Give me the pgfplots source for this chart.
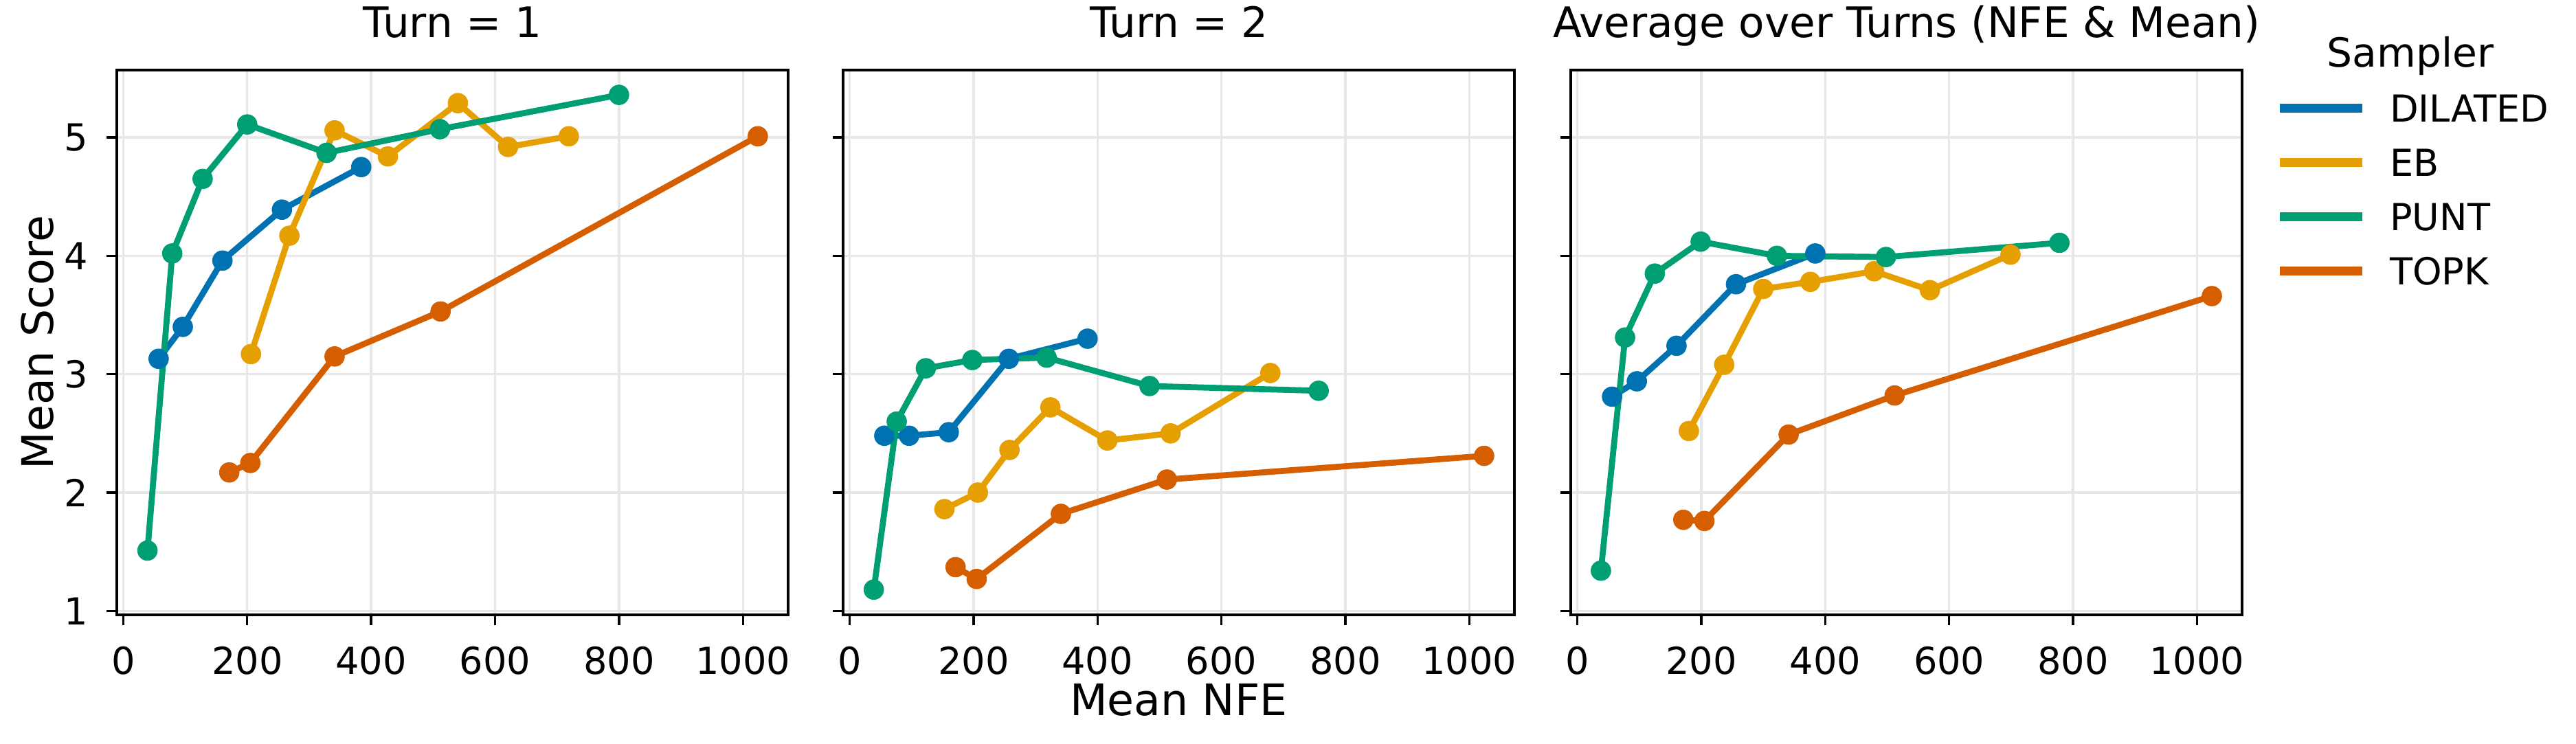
\documentclass[border=0pt]{standalone}
\usepackage{fontspec}
\setmainfont{DejaVu Sans}
\usepackage{pgfplots}
\pgfplotsset{compat=1.18}

\definecolor{cdil}{HTML}{0072B2}
\definecolor{ceb}{HTML}{E69F00}
\definecolor{cpunt}{HTML}{009E73}
\definecolor{ctopk}{HTML}{D55E00}
\definecolor{gridgray}{RGB}{231,231,231}

\pgfplotsset{
  panel/.style={
    scale only axis, width=234.5pt, height=190.3pt,
    xmin=-10.5, xmax=1073, ymin=0.967, ymax=5.569,
    xtick={0,200,400,600,800,1000}, ytick={1,2,3,4,5},
    grid=major, major grid style={draw=gridgray, line width=0.8pt},
    axis line style={line width=0.9pt},
    tick align=outside, xtick pos=left, ytick pos=left,
    major tick length=3.6pt, tick style={black, line width=0.8pt},
    ticklabel style={font=\fontsize{13}{15}\selectfont},
    xticklabel style={yshift=-4pt},
    yticklabel style={xshift=-3pt},
    /pgf/number format/assume math mode=true,
    /pgf/number format/1000 sep={},
    title style={font=\fontsize{14.7}{17}\selectfont, at={(0.5,1)}, anchor=base, yshift=5.5pt},
    every axis plot/.append style={line width=2.1pt, line join=round, mark=*, mark size=3.45pt, mark options={line width=0.2pt}},
  }
}

\begin{document}
\begin{tikzpicture}

% Turn = 1
\begin{axis}[panel, name=p1, at={(0pt,0pt)}, anchor=south west,
  title={Turn = 1},
  ylabel={Mean Score},
  ylabel style={font=\fontsize{15.2}{18}\selectfont, at={(axis description cs:-0.118,0.5)}, anchor=center},
]
\addplot[color=cdil] coordinates {(57,3.13) (96,3.40) (160,3.96) (256,4.39) (384,4.75)};
\addplot[color=ceb] coordinates {(206,3.17) (268,4.17) (341,5.06) (427,4.84) (540,5.29) (621,4.92) (719,5.01)};
\addplot[color=cpunt] coordinates {(39,1.51) (79,4.02) (128,4.65) (200,5.11) (328,4.87) (511,5.07) (800,5.36)};
\addplot[color=ctopk] coordinates {(171,2.17) (205,2.25) (341,3.15) (512,3.53) (1024,5.01)};
\end{axis}

% Turn = 2
\begin{axis}[panel, name=p2, at={(253.7pt,0pt)}, anchor=south west,
  title={Turn = 2},
  yticklabels={},
  xlabel={Mean NFE},
  xlabel style={font=\fontsize{15.2}{18}\selectfont, at={(axis description cs:0.5,-0.1566)}, anchor=center},
]
\addplot[color=cdil] coordinates {(56,2.48) (96,2.48) (160,2.51) (257,3.13) (384,3.30)};
\addplot[color=ceb] coordinates {(153,1.86) (207,2.00) (258,2.36) (324,2.72) (416,2.44) (518,2.50) (679,3.01)};
\addplot[color=cpunt] coordinates {(39,1.18) (76,2.60) (123,3.05) (198,3.12) (318,3.14) (484,2.90) (757,2.86)};
\addplot[color=ctopk] coordinates {(171,1.37) (205,1.27) (341,1.82) (512,2.11) (1024,2.31)};
\end{axis}

% Average over turns
\begin{axis}[panel, name=p3, at={(507.9pt,0pt)}, anchor=south west,
  title={Average over Turns (NFE \& Mean)},
  yticklabels={},
  legend style={at={(1,1)}, anchor=north west, xshift=11.5pt, yshift=-8.5pt,
    draw=none, fill=none, inner sep=0pt, outer sep=0pt,
    font=\fontsize{13}{15}\selectfont,
    row sep=9.5pt, column sep=8pt,
    nodes={inner sep=0pt, text height=9.5pt, text depth=0pt}},
  legend cell align=left,
  legend image code/.code={\draw[#1, line width=3.1pt] (0pt,0pt) -- (29pt,0pt);},
]
\addplot[color=cdil, forget plot] coordinates {(56,2.81) (96,2.94) (160,3.24) (256,3.76) (384,4.02)};
\addplot[color=ceb, forget plot] coordinates {(180,2.52) (237,3.08) (300,3.72) (376,3.78) (479,3.87) (569,3.71) (699,4.01)};
\addplot[color=cpunt, forget plot] coordinates {(38,1.34) (77,3.31) (125,3.85) (199,4.12) (322,4.00) (498,3.99) (778,4.11)};
\addplot[color=ctopk, forget plot] coordinates {(171,1.77) (205,1.76) (341,2.49) (512,2.82) (1024,3.66)};
\addlegendimage{cdil}
\addlegendentry{DILATED}
\addlegendimage{ceb}
\addlegendentry{EB}
\addlegendimage{cpunt}
\addlegendentry{PUNT}
\addlegendimage{ctopk}
\addlegendentry{TOPK}
\end{axis}

\node[anchor=base, font=\fontsize{14}{16}\selectfont, inner sep=0pt]
  at ([xshift=58.8pt, yshift=1.2pt]p3.north east) {Sampler};

\pgfresetboundingbox
\path[use as bounding box] (-40.8pt,-45.1pt) rectangle (859.0pt,214.8pt);
\end{tikzpicture}
\end{document}
